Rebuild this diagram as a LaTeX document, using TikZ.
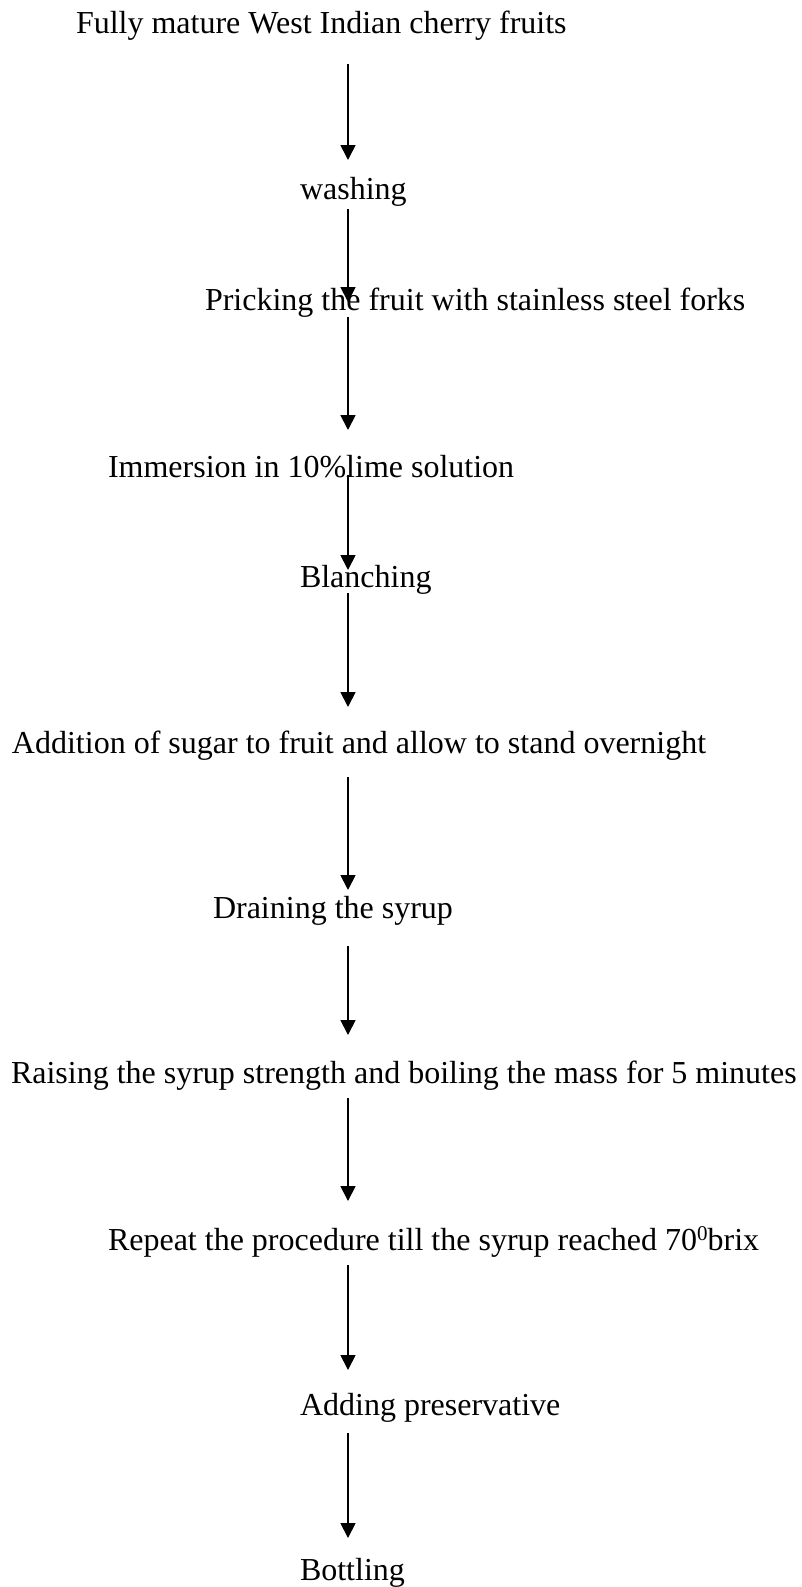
\documentclass[tikz,border=0pt]{standalone}
\usepackage{fontspec}
\setmainfont{Liberation Serif}
\usetikzlibrary{arrows.meta}
\tikzset{
  steptext/.style={anchor=base west, inner sep=0pt, outer sep=0pt, font=\fontsize{32}{38}\selectfont},
  flowarrow/.style={line width=1.8pt, -{Triangle[length=15pt,width=15pt]}}
}
\begin{document}
\begin{tikzpicture}[x=1pt,y=-1pt]
\useasboundingbox (0,0) rectangle (801,1587);
% steps
\node[steptext] (s1)  at (76,34)   {Fully mature West Indian cherry fruits};
\node[steptext] (s2)  at (300,199) {washing};
\node[steptext] (s3)  at (205,310) {Pricking the fruit with stainless steel forks};
\node[steptext] (s4)  at (108,477) {Immersion in 10\%lime solution};
\node[steptext] (s5)  at (300,587) {Blanching};
\node[steptext] (s6)  at (12,753)  {Addition of sugar to fruit and allow to stand overnight};
\node[steptext] (s7)  at (213,918) {Draining the syrup};
\node[steptext] (s8)  at (11,1083) {Raising the syrup strength and boiling the mass for 5 minutes};
\node[steptext] (s9)  at (108,1250) {Repeat the procedure till the syrup reached 70\raisebox{10pt}{\fontsize{21}{21}\selectfont 0}brix};
\node[steptext] (s10) at (300,1415) {Adding preservative};
\node[steptext] (s11) at (300,1580) {Bottling};
% arrow end points
\coordinate (a1s) at (348,64);   \coordinate (a1e) at (348,160);
\coordinate (a2s) at (348,209);  \coordinate (a2e) at (348,302);
\coordinate (a3s) at (348,317);  \coordinate (a3e) at (348,430);
\coordinate (a4s) at (348,475);  \coordinate (a4e) at (348,570);
\coordinate (a5s) at (348,593);  \coordinate (a5e) at (348,707);
\coordinate (a6s) at (348,777);  \coordinate (a6e) at (348,890);
\coordinate (a7s) at (348,946);  \coordinate (a7e) at (348,1035);
\coordinate (a8s) at (348,1098); \coordinate (a8e) at (348,1201);
\coordinate (a9s) at (348,1265); \coordinate (a9e) at (348,1370);
\coordinate (a10s) at (348,1433); \coordinate (a10e) at (348,1538);
\foreach \i in {1,...,10}{
  \draw[flowarrow] (a\i s) -- (a\i e);
}
\end{tikzpicture}
\end{document}
